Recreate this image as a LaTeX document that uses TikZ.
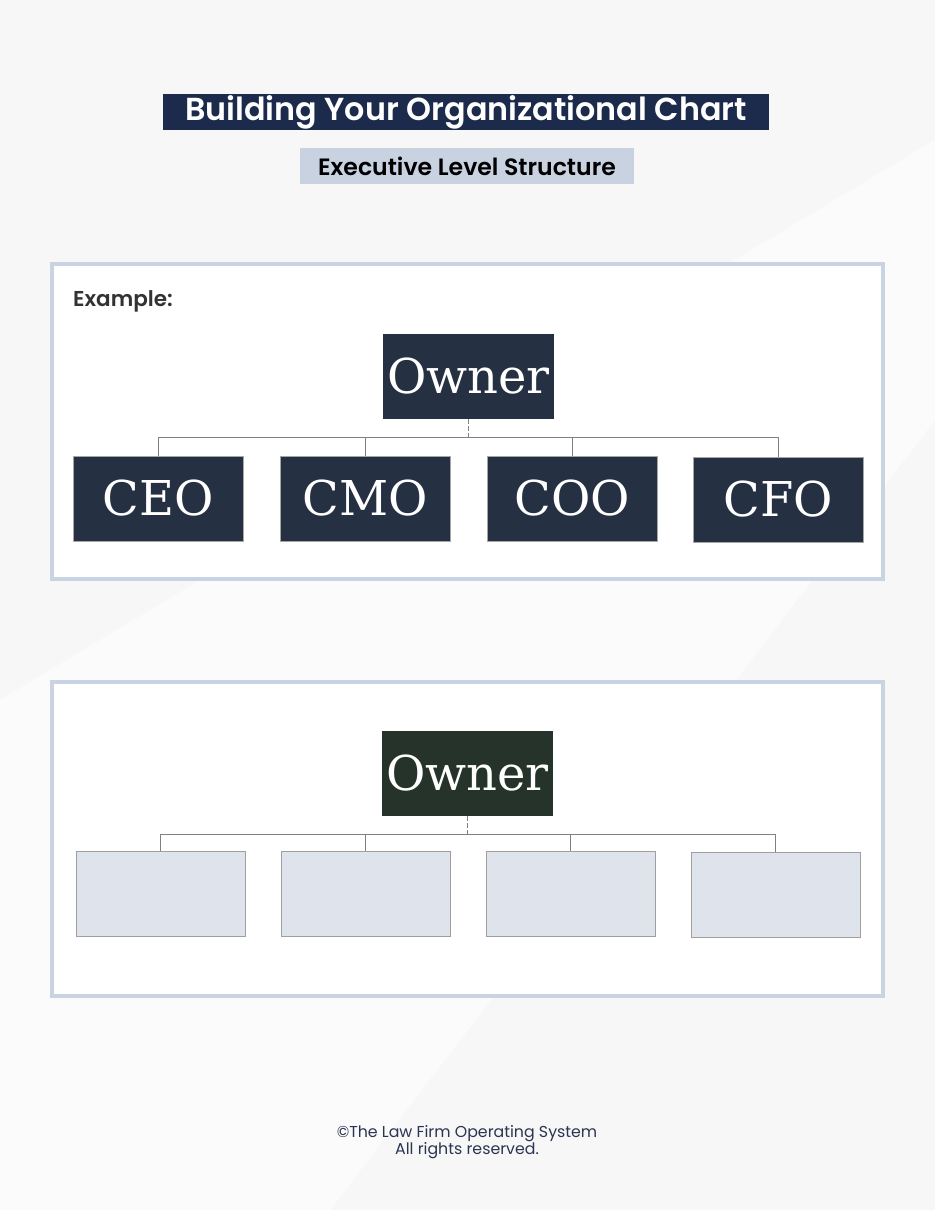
\documentclass[tikz,border=0pt]{standalone}
\usepackage{fontspec}
\setmainfont{Poppins}
\newfontfamily\popsemi{Poppins}[UprightFont=* SemiBold]
\newfontfamily\slab{DejaVu Serif}
\usetikzlibrary{positioning}
\definecolor{bgc}{HTML}{F7F7F8}
\definecolor{navy}{HTML}{1C2B4C}
\definecolor{subbg}{HTML}{C8D2E1}
\definecolor{framec}{HTML}{C9D3E2}
\definecolor{darkbox}{HTML}{253042}
\definecolor{greenbox}{HTML}{25332B}
\definecolor{emptybox}{HTML}{DFE3EC}
\definecolor{linec}{HTML}{808080}
\definecolor{footc}{HTML}{2A3550}
\tikzset{
  frame/.style={draw=framec, line width=4pt, fill=white},
  ownerbox/.style={minimum width=171pt, minimum height=85pt, inner sep=0pt, text=white, font=\slab\fontsize{48}{48}\selectfont},
  childbox/.style={draw=gray!70, line width=0.8pt, fill=darkbox, minimum width=170pt, minimum height=85pt, inner sep=0pt, text=white, font=\slab\fontsize{48}{48}\selectfont},
  blankbox/.style={draw=gray!75, line width=0.8pt, fill=emptybox, minimum width=169pt, minimum height=85pt, inner sep=0pt},
  conn/.style={draw=linec, line width=0.9pt},
  dconn/.style={draw=linec, line width=0.9pt, dash pattern=on 5pt off 2pt}
}
\begin{document}
\begin{tikzpicture}[x=1pt,y=-1pt]
\useasboundingbox (0,0) rectangle (935,1210);
\fill[bgc] (0,0) rectangle (935,1210);
\fill[white,opacity=0.6] (0,1210) -- (0,700) -- (935,140) -- (935,420) -- (330,1210) -- cycle;
% title
\node[fill=navy, text=white, minimum width=606pt, minimum height=36pt, inner sep=0pt, font=\popsemi\fontsize{31.8}{31.8}\selectfont] (title) at (466,112) {Building Your Organizational Chart};
\node[fill=subbg, text=black, minimum width=334pt, minimum height=36pt, inner sep=0pt, font=\popsemi\fontsize{23.6}{23.6}\selectfont] (sub) at (467,166) {Executive Level Structure};
% frames
\draw[frame] (52,264) rectangle (883,579);
\draw[frame] (52,682) rectangle (883,996);
\node[anchor=base west, inner sep=0pt, text=black!80, font=\popsemi\fontsize{21.5}{21.5}\selectfont] (ex) at (73,306) {Example:};
% chart 1
\node[ownerbox, fill=darkbox] (own1) at (468.5,376.5) {Owner};
\node[childbox] (ceo) at (158,498.5) {CEO};
\node[childbox] (cmo) at (365.5,498.5) {CMO};
\node[childbox] (coo) at (572.5,498.5) {COO};
\node[childbox] (cfo) at (778,499.5) {CFO};
\coordinate (j1) at (468.5,437);
\draw[dconn] (own1.south) -- (j1);
\draw[conn] (ceo.north) |- (j1);
\draw[conn] (cmo.north) -- (cmo.north |- j1);
\draw[conn] (j1) -| (coo.north);
\draw[conn] (coo.north |- j1) -| (cfo.north);
% chart 2
\node[ownerbox, fill=greenbox] (own2) at (467.5,773.5) {Owner};
\node[blankbox] (b1) at (160.5,893.5) {};
\node[blankbox] (b2) at (365.5,893.5) {};
\node[blankbox] (b3) at (570.5,893.5) {};
\node[blankbox] (b4) at (775.5,894.5) {};
\coordinate (j2) at (467.5,834);
\draw[dconn] (own2.south) -- (j2);
\draw[conn] (b1.north) |- (j2);
\draw[conn] (b2.north) -- (b2.north |- j2);
\draw[conn] (j2) -| (b3.north);
\draw[conn] (b3.north |- j2) -| (b4.north);
% footer
\node[text=footc, align=center, font=\fontsize{15.8}{15.5}\selectfont, inner sep=0pt] (foot) at (467,1142) {©The Law Firm Operating System\\All rights reserved.};
\end{tikzpicture}
\end{document}
